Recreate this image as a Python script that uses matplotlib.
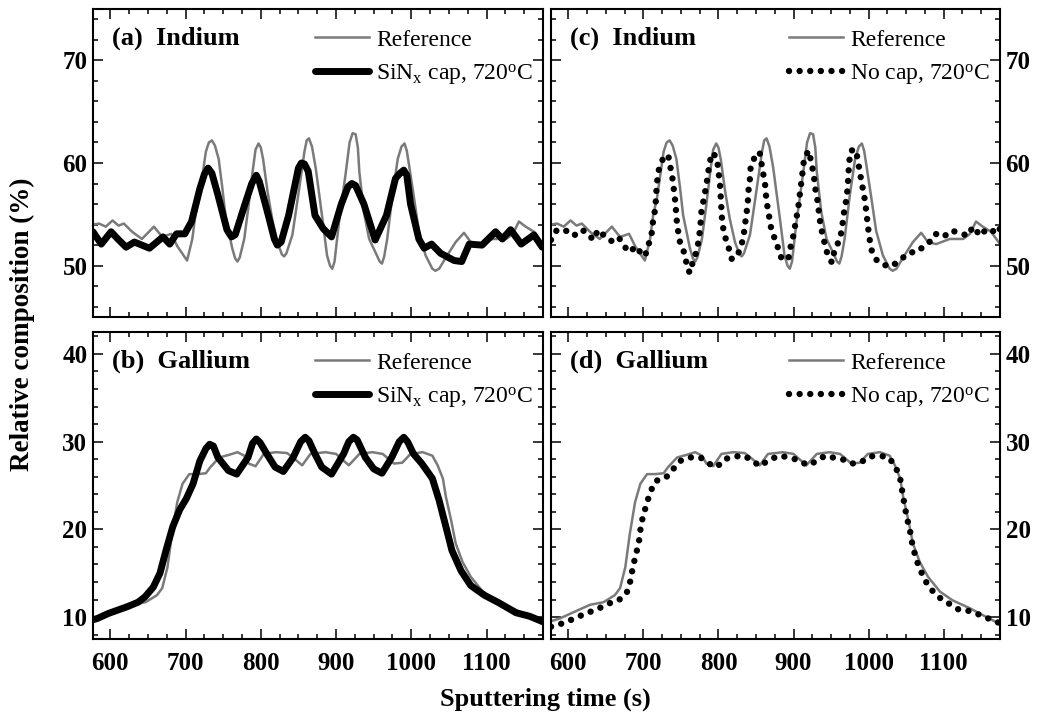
import matplotlib
matplotlib.use("Agg")
import matplotlib.pyplot as plt
from matplotlib.ticker import MultipleLocator

plt.rcParams["font.family"] = "Liberation Serif"
plt.rcParams["mathtext.default"] = "regular"

# Indium, reference (same curve in a and c)
ref_in_t = [577, 585, 594, 603, 611, 618, 629, 642, 658, 669, 681, 689, 702, 709, 713, 718,
            727, 731, 735, 739, 744, 749, 753, 762, 766, 769, 772, 778, 784, 789, 793, 797, 800,
            803, 809, 815, 822, 828, 831, 834, 842, 851, 858, 861, 864, 868, 873, 882, 888, 892,
            895, 898, 904, 913, 918, 922, 926, 929, 931, 937, 944, 953, 958, 961, 964, 968, 975,
            982, 987, 991, 994, 997, 1004, 1010, 1019, 1028, 1032, 1037, 1046, 1059, 1070, 1079,
            1090, 1108, 1126, 1135, 1143, 1152, 1163, 1175]
ref_in = [54.0, 54.1, 53.8, 54.4, 53.9, 54.1, 53.3, 52.6, 53.8, 52.8, 53.1, 51.9, 50.5, 52.6, 54.9, 56.5,
          61.1, 62.0, 62.2, 61.7, 60.4, 57.5, 54.9, 51.7, 50.7, 50.4, 50.8, 52.6, 56.0, 59.1, 61.3, 61.9, 61.5,
          60.4, 57.2, 54.6, 52.3, 51.1, 50.9, 51.2, 53.0, 57.5, 61.1, 62.2, 62.4, 61.6, 59.5, 54.5, 51.0, 50.0,
          49.7, 50.4, 54.3, 59.1, 62.0, 62.9, 62.8, 61.5, 59.1, 55.2, 52.6, 51.2, 50.4, 50.2, 50.9, 52.6, 56.9,
          60.4, 61.6, 61.9, 61.2, 59.8, 56.4, 53.4, 51.0, 49.7, 49.5, 49.7, 50.8, 52.3, 53.2, 52.3,
          52.1, 52.6, 52.6, 53.1, 54.3, 53.8, 53.3, 52.1]

# Indium, SiNx cap 720C
sin_in_t = [577, 588, 601, 610, 621, 632, 652, 670, 679, 688, 699, 708, 719, 725, 730, 735, 743,
            755, 761, 766, 779, 788, 794, 798, 810, 818, 822, 827, 837, 850, 854, 858, 863, 872,
            883, 894, 907, 916, 921, 926, 937, 952, 967, 979, 985, 990, 994, 999, 1010, 1017,
            1027, 1039, 1057, 1067, 1077, 1094, 1112, 1121, 1132, 1146, 1163, 1174]
sin_in = [53.3, 52.1, 53.3, 52.6, 51.8, 52.3, 51.7, 52.8, 52.1, 53.1, 53.1, 54.3, 57.5, 58.9, 59.5, 59.0, 56.9,
          53.5, 52.8, 53.0, 56.0, 58.0, 58.8, 58.2, 54.9, 52.6, 52.0, 52.3, 54.9, 59.5, 60.0, 59.9, 59.2, 54.9,
          53.6, 52.8, 56.0, 57.7, 58.0, 57.8, 56.0, 52.5, 54.9, 58.5, 59.0, 59.3, 58.8, 56.0, 52.6, 51.7,
          52.1, 51.2, 50.5, 50.4, 52.1, 52.0, 53.3, 52.6, 53.5, 52.1, 53.0, 51.8]

# Indium, no cap 720C
noc_in_t = [577, 585, 597, 607, 618, 627, 633, 640, 648, 657, 667, 673, 682, 690, 697, 702, 706,
            711, 713, 716, 717, 718, 720, 726, 733, 739, 741, 743, 744, 746, 749, 756, 758, 762,
            766, 771, 774, 776, 777, 780, 783, 786, 788, 792, 798, 800, 802, 803, 804, 805, 808,
            813, 818, 827, 833, 835, 837, 839, 840, 842, 843, 851, 855, 859, 862, 864, 867, 870,
            875, 879, 884, 893, 896, 900, 903, 906, 908, 910, 912, 914, 920, 924, 927, 929, 932,
            934, 936, 940, 944, 951, 955, 962, 965, 967, 970, 972, 973, 974, 976, 983, 986, 989,
            992, 995, 997, 999, 1001, 1004, 1011, 1019, 1030, 1039, 1046, 1055, 1064, 1072, 1080,
            1089, 1100, 1109, 1117, 1125, 1132, 1139, 1149, 1157, 1165, 1172, 1177]
noc_in = [52.5, 53.5, 53.4, 52.9, 53.5, 53.1, 52.5, 53.5, 52.9, 52.4, 52.8, 52.0, 51.3, 51.9, 51.2, 50.9, 51.8,
          53.1, 54.4, 55.6, 56.8, 58.0, 59.2, 60.4, 60.8, 58.4, 57.2, 55.9, 54.7, 53.5, 52.2, 51.0, 49.8, 49.3,
          50.4, 51.4, 52.6, 53.9, 55.1, 56.3, 57.5, 58.8, 60.0, 61.0, 60.5, 59.2, 58.0, 56.8, 55.5, 54.2, 53.0,
          51.9, 50.6, 51.3, 52.6, 53.8, 54.9, 56.0, 57.3, 58.5, 59.7, 61.0, 61.0, 59.2, 58.0, 56.3, 55.0, 53.7,
          52.6, 51.8, 50.7, 50.6, 51.8, 53.0, 54.3, 55.5, 56.7, 57.9, 59.1, 60.4, 61.2, 60.0, 58.8, 57.5, 56.3,
          55.1, 53.9, 52.6, 51.4, 50.3, 51.6, 52.6, 53.9, 55.1, 56.3, 57.5, 58.8, 60.0, 61.2, 61.3, 60.1, 58.8,
          57.6, 56.4, 55.2, 53.9, 52.7, 51.5, 50.5, 50.1, 49.9, 50.4, 50.8, 51.3, 51.3, 51.8, 52.2,
          53.1, 52.8, 53.4, 53.3, 53.1, 52.9, 53.8, 52.9, 53.6, 53.4, 53.1, 54.0]

# Gallium, reference (same curve in b and d)
ref_ga_t = [576, 589, 603, 629, 647, 662, 669, 676, 682, 689, 696, 705, 716, 727, 733, 745, 758,
            769, 778, 784, 793, 804, 820, 835, 844, 855, 866, 886, 900, 917, 931, 948, 962, 977,
            988, 999, 1015, 1028, 1035, 1042, 1046, 1053, 1059, 1068, 1079, 1095, 1112, 1135,
            1157, 1175]
ref_ga = [9.5, 9.85, 10.4, 11.4, 11.7, 12.5, 13.3, 15.7, 19.5, 23.1, 25.2, 26.3, 26.3, 26.4, 27.1, 28.2, 28.5,
          28.8, 28.4, 27.5, 27.2, 28.6, 28.8, 28.7, 28.1, 27.3, 28.6, 28.8, 28.6, 27.3, 28.6, 28.8, 28.6, 27.5,
          27.6, 28.6, 28.8, 28.4, 27.3, 25.8, 23.7, 21.0, 18.4, 16.3, 14.6, 12.9, 11.9, 11.0,
          10.0, 9.2]

# Gallium, SiNx cap 720C
sin_ga_t = [577, 583, 597, 610, 623, 637, 646, 657, 666, 674, 683, 692, 701, 710, 719, 727, 732,
            737, 743, 757, 768, 783, 789, 794, 799, 808, 819, 830, 843, 853, 859, 864, 872, 881,
            894, 910, 917, 923, 928, 939, 950, 961, 974, 984, 990, 995, 1003, 1014, 1028, 1037,
            1046, 1054, 1066, 1079, 1097, 1117, 1139, 1157, 1174]
sin_ga = [9.7, 9.85, 10.4, 10.8, 11.2, 11.7, 12.3, 13.4, 15.0, 17.6, 20.3, 22.2, 23.5, 25.2, 27.8, 29.2, 29.7,
          29.5, 28.2, 26.7, 26.3, 28.2, 29.8, 30.3, 29.9, 28.6, 27.1, 26.6, 28.2, 30.0, 30.5, 30.1, 28.6, 27.1,
          26.3, 28.6, 30.0, 30.5, 30.2, 28.2, 26.9, 26.4, 28.2, 30.0, 30.5, 30.0, 28.6, 27.5, 25.8, 23.3,
          20.3, 17.6, 15.3, 13.6, 12.5, 11.6, 10.5, 10.1, 9.5]

# Gallium, no cap 720C
noc_ga_t = [577, 586, 599, 612, 626, 639, 652, 667, 678, 683, 686, 690, 694, 696, 699, 704, 709,
            716, 730, 740, 749, 762, 776, 787, 798, 808, 821, 834, 846, 855, 867, 881, 894, 906,
            919, 931, 942, 952, 965, 977, 989, 1001, 1014, 1027, 1036, 1042, 1045, 1048, 1051,
            1055, 1058, 1062, 1067, 1073, 1079, 1088, 1099, 1110, 1121, 1134, 1141, 1155, 1169, 1175]
noc_ga = [8.9, 9.1, 9.5, 10.0, 10.5, 10.9, 11.5, 11.9, 12.8, 14.2, 15.7, 17.1, 18.5, 19.9, 21.3, 22.8, 24.2,
          25.5, 25.9, 26.9, 27.8, 28.2, 28.2, 27.5, 27.1, 28.0, 28.3, 28.4, 27.8, 27.2, 27.9, 28.4, 28.2, 27.9,
          27.3, 27.8, 28.4, 28.2, 28.0, 27.5, 27.6, 28.3, 28.4, 28.2, 27.1, 25.8, 24.2, 22.7, 21.3,
          19.9, 18.4, 17.0, 15.7, 14.6, 13.6, 12.7, 11.9, 11.4, 10.8, 10.7, 10.5, 10.0, 9.5, 9.3]

ref_label = "Reference"
sin_label = "SiN$_{x}$ cap, 720$^{o}$C"
noc_label = "No cap, 720$^{o}$C"

gray = "#7a7a7a"
fs = 17

fig = plt.figure(figsize=(10.39, 7.18), dpi=100)
ax_a = fig.add_axes([0.0895, 0.5585, 0.4331, 0.429])
ax_c = fig.add_axes([0.5303, 0.5585, 0.4322, 0.429])
ax_b = fig.add_axes([0.0895, 0.110, 0.4331, 0.4276])
ax_d = fig.add_axes([0.5303, 0.110, 0.4322, 0.4276])


def style(ax, ylim, yticks, right=False, xlabels=False):
    ax.set_xlim(577, 1175)
    ax.set_ylim(*ylim)
    ax.xaxis.set_major_locator(MultipleLocator(100))
    ax.xaxis.set_minor_locator(MultipleLocator(25))
    ax.set_yticks(yticks)
    ax.yaxis.set_minor_locator(MultipleLocator(2))
    ax.tick_params(which="both", direction="in", top=True, bottom=True, left=True, right=True,
                   width=1.1, labelsize=fs + 1)
    ax.tick_params(which="major", length=7)
    ax.tick_params(which="minor", length=3.5)
    ax.tick_params(axis="y", pad=4)
    ax.tick_params(axis="x", pad=9)
    ax.tick_params(labelleft=not right, labelright=right, labelbottom=xlabels)
    for lab in ax.get_xticklabels() + ax.get_yticklabels():
        lab.set_fontweight("bold")
    for sp in ax.spines.values():
        sp.set_linewidth(1.5)


def add_legend(ax):
    leg = ax.legend(loc="upper right", bbox_to_anchor=(1.022, 1.0), frameon=False, fontsize=fs,
                    handlelength=2.3, handletextpad=0.3, labelspacing=0.48, borderaxespad=0.55,
                    borderpad=0.3)
    return leg


def title(ax, s):
    ax.text(0.042, 0.905, s, transform=ax.transAxes, fontsize=fs + 2,
            fontweight="bold", va="center")


# (a) Indium, SiNx cap
ax_a.plot(ref_in_t, ref_in, color=gray, lw=1.8, label=ref_label)
ax_a.plot(sin_in_t, sin_in, color="black", lw=5, solid_joinstyle="round", solid_capstyle="round",
          label=sin_label)
style(ax_a, (45, 75), [50, 60, 70])
title(ax_a, "(a)  Indium")
add_legend(ax_a)

# (c) Indium, no cap
ax_c.plot(ref_in_t, ref_in, color=gray, lw=1.8, label=ref_label)
ax_c.plot(noc_in_t, noc_in, color="black", lw=4.6, linestyle=(0, (0.01, 1.65)),
          dash_capstyle="round", label=noc_label)
style(ax_c, (45, 75), [50, 60, 70], right=True)
title(ax_c, "(c)  Indium")
add_legend(ax_c)

# (b) Gallium, SiNx cap
ax_b.plot(ref_ga_t, ref_ga, color=gray, lw=1.8, label=ref_label)
ax_b.plot(sin_ga_t, sin_ga, color="black", lw=5, solid_joinstyle="round", solid_capstyle="round",
          label=sin_label)
style(ax_b, (7.5, 42.5), [10, 20, 30, 40], xlabels=True)
title(ax_b, "(b)  Gallium")
add_legend(ax_b)

# (d) Gallium, no cap
ax_d.plot(ref_ga_t, ref_ga, color=gray, lw=1.8, label=ref_label)
ax_d.plot(noc_ga_t, noc_ga, color="black", lw=4.6, linestyle=(0, (0.01, 1.65)),
          dash_capstyle="round", label=noc_label)
style(ax_d, (7.5, 42.5), [10, 20, 30, 40], right=True, xlabels=True)
title(ax_d, "(d)  Gallium")
add_legend(ax_d)

fig.text(0.022, 0.549, "Relative composition (%)", rotation=90, ha="center", va="center",
         fontsize=fs + 2.5, fontweight="bold")
fig.text(0.5245, 0.026, "Sputtering time (s)", ha="center", va="center",
         fontsize=fs + 2, fontweight="bold")

fig.savefig("out.png", dpi=100)
